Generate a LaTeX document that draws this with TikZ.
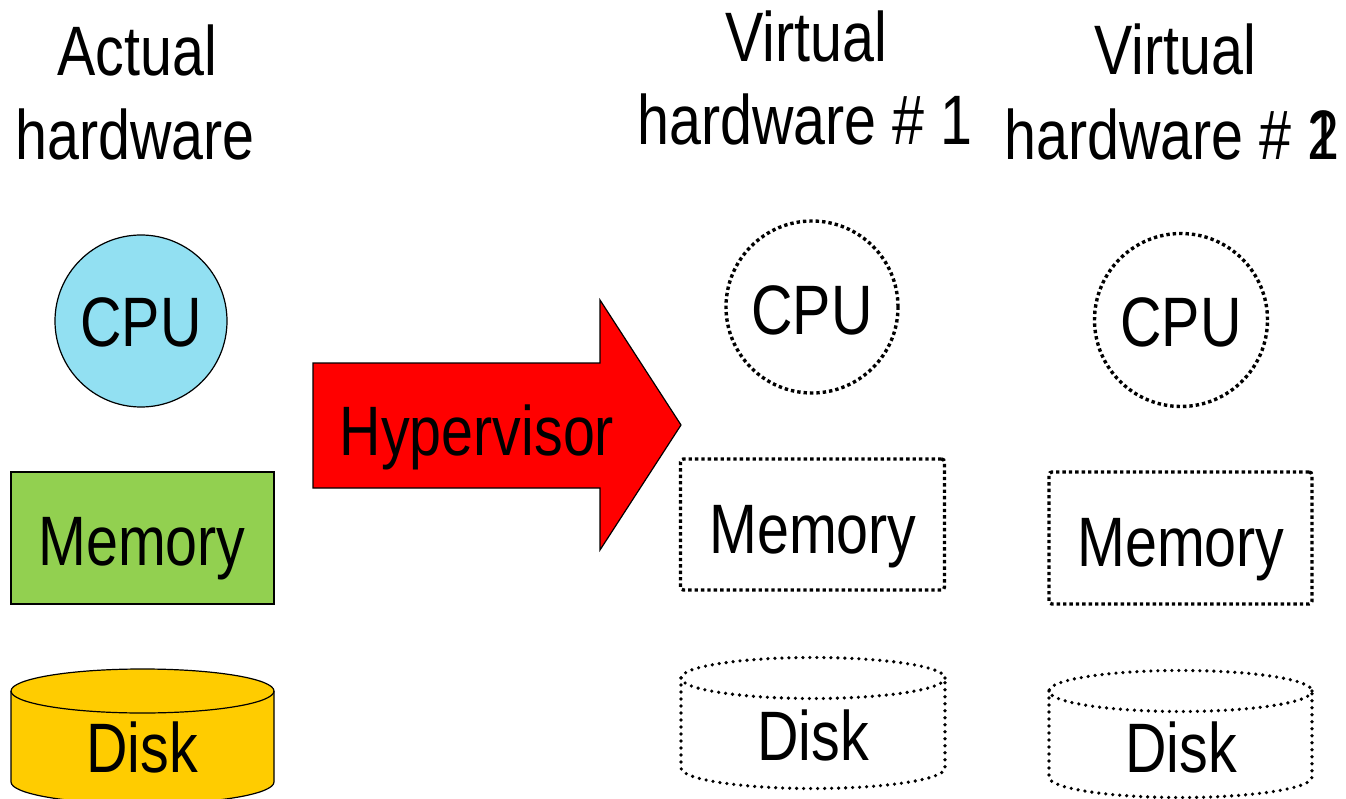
\documentclass[tikz,border=0pt]{standalone}
\usepackage{fontspec}
\setmainfont[FakeStretch=0.82]{Liberation Sans}
\definecolor{cpublue}{RGB}{146,224,242}
\definecolor{memgreen}{RGB}{146,208,80}
\definecolor{diskyellow}{RGB}{255,204,0}
\begin{document}
\begin{tikzpicture}[x=1pt,y=-1pt,
  lbl/.style={anchor=base,inner sep=0pt,font=\fontsize{70}{80}\selectfont},
  solidline/.style={draw=black,line width=1.2pt},
  dotline/.style={draw=black,line width=3.4pt,dash pattern=on 3.4pt off 3pt},
  dotround/.style={draw=black,line width=3.6pt,line cap=round,dash pattern=on 0pt off 7pt}]
\useasboundingbox (0,0) rectangle (1346,799);
\clip (0,0) rectangle (1346,799);

% --- real hardware column ---
\node[lbl] (ah1) at (137,76) {Actual};
\node[lbl] (ah2) at (135,160) {hardware};
\node[circle,solidline,fill=cpublue,minimum size=172pt,inner sep=0pt] (cpu0) at (141,321) {};
\node[lbl] at (141,347) {CPU};
\node[rectangle,solidline,fill=memgreen,minimum width=263pt,minimum height=132pt,inner sep=0pt] (mem0) at (142.5,538) {};
\node[lbl] at (142,565) {Memory};
% disk: body, lower rim and top face (y axis points down here)
\fill[diskyellow] (11,691) -- (11,782) arc[start angle=180,end angle=0,x radius=131.5,y radius=22] -- (274,691) arc[start angle=0,end angle=-180,x radius=131.5,y radius=22] -- cycle;
\draw[line width=1.2pt] (11,691) -- (11,782) arc[start angle=180,end angle=0,x radius=131.5,y radius=22] -- (274,691);
\draw[line width=1.2pt] (142.5,691) ellipse[x radius=131.5,y radius=22];
\node[lbl] at (142,772) {Disk};

% --- hypervisor arrow ---
\draw[line width=1.2pt,fill=red] (313,363) -- (600,363) -- (600,300) -- (681,425) -- (600,550) -- (600,488) -- (313,488) -- cycle;
\node[lbl] (hv) at (477,455) {Hypervisor};

% --- virtual hardware 1 ---
\node[lbl] (v1a) at (806,62) {Virtual};
\node[lbl] (v1b) at (805,145) {hardware \# 1};
\node[circle,dotline,minimum size=172pt,inner sep=0pt] (cpu1) at (812,307) {};
\node[lbl] at (812,335) {CPU};
\node[rectangle,rounded corners=3pt,dotline,minimum width=264pt,minimum height=131pt,inner sep=0pt] (mem1) at (812.5,524.5) {};
\node[lbl] at (813,553) {Memory};
\draw[dotround] (681,678) -- (681,768) arc[start angle=180,end angle=0,x radius=132,y radius=20.5] -- (945,678);
\draw[dotround] (813,678) ellipse[x radius=132,y radius=20.5];
\node[lbl] at (813,760) {Disk};

% --- virtual hardware 2 ---
\node[lbl] (v2a) at (1175,75) {Virtual};
\node[lbl] (v2b) at (1172,160) {hardware \# \rlap{1}2};
\node[circle,dotline,minimum size=173pt,inner sep=0pt] (cpu2) at (1181,320) {};
\node[lbl] at (1181,347) {CPU};
\node[rectangle,rounded corners=3pt,dotline,minimum width=263pt,minimum height=132pt,inner sep=0pt] (mem2) at (1180.5,538) {};
\node[lbl] at (1181,566) {Memory};
\draw[dotround] (1049,691) -- (1049,777) arc[start angle=180,end angle=0,x radius=131.5,y radius=20.5] -- (1312,691);
\draw[dotround] (1180.5,691) ellipse[x radius=131.5,y radius=20.5];
\node[lbl] at (1181,772) {Disk};
\end{tikzpicture}
\end{document}
